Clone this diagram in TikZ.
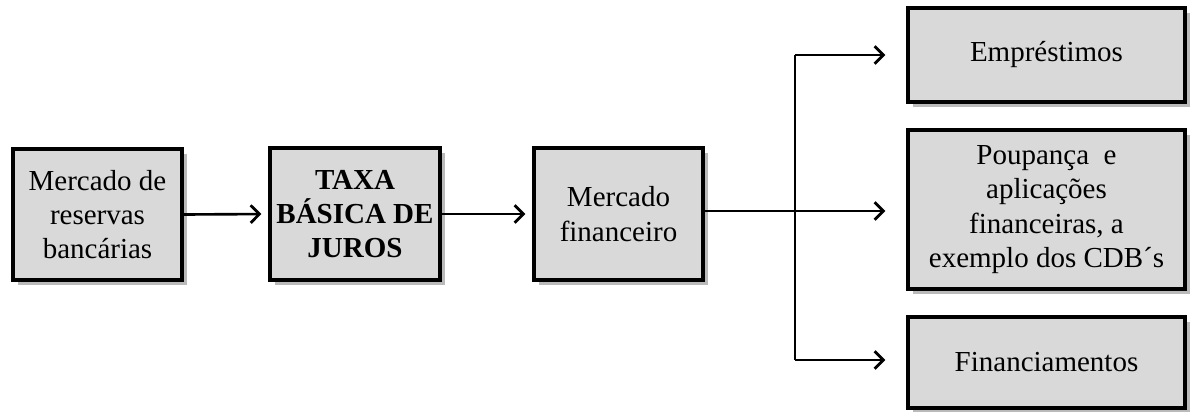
\documentclass[tikz,border=0pt]{standalone}
\usepackage{fontspec}
\setmainfont{Liberation Serif}
\usetikzlibrary{arrows.meta,shadows}

\begin{document}
\begin{tikzpicture}[x=0.02cm,y=-0.02cm,
  caixa/.style={draw,line width=1.8pt,fill=black!15,align=center,inner sep=0pt,
    font=\fontsize{16.5}{19.5}\selectfont,
    drop shadow={shadow xshift=3pt,shadow yshift=-3pt,fill=black!45,opacity=.6}},
  seta/.style={line width=1.5pt,-{Straight Barb[length=5pt,width=10pt,line width=1.6pt]}}]

\useasboundingbox (0,0) rectangle (1191,412);

% boxes on the left
\node[caixa,minimum width=169*0.02cm,minimum height=131*0.02cm] (reservas) at (97.5,214.5) {Mercado de\\reservas\\bancárias};
\node[caixa,minimum width=170*0.02cm,minimum height=132*0.02cm] (taxa) at (355,214) {\textbf{TAXA}\\\textbf{BÁSICA DE}\\\textbf{JUROS}};
\node[caixa,minimum width=169*0.02cm,minimum height=132*0.02cm] (mercado) at (618.5,214) {Mercado\\financeiro};
% boxes on the right
\node[caixa,minimum width=277*0.02cm,minimum height=94*0.02cm] (emprestimos) at (1046.5,55) {Empréstimos};
\node[caixa,minimum width=277*0.02cm,minimum height=159*0.02cm] (poupanca) at (1046.5,209.5) {Poupança\ \ e\\aplicações\\financeiras, a\\exemplo dos CDB´s};
\node[caixa,minimum width=277*0.02cm,minimum height=91*0.02cm] (financiamentos) at (1046.5,362.5) {Financiamentos};

\coordinate (ramo) at (795,211);
\coordinate (topo) at (795,55);
\coordinate (base) at (795,360);

\draw[seta,shorten >=4pt] (reservas.east) -- (taxa.west);
\draw[seta,shorten >=4pt] (taxa.east) -- (mercado.west);
\draw[line width=1.5pt] (mercado.east |- ramo) -- (ramo);
\draw[line width=1.5pt] (topo) -- (base);
\foreach \alvo/\ponto in {emprestimos/topo,poupanca/ramo,financiamentos/base}
  \draw[seta,shorten >=12pt] (\ponto) -- (\ponto -| \alvo.west);

\end{tikzpicture}
\end{document}
